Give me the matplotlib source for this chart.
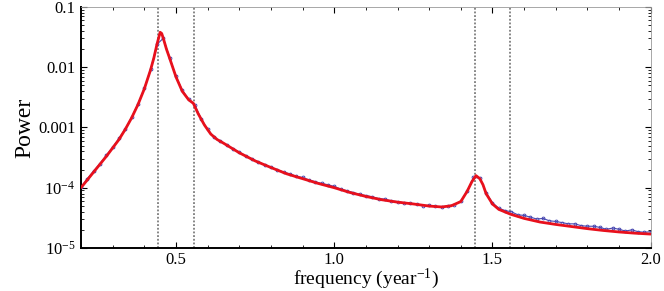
import matplotlib
matplotlib.use("Agg")
import matplotlib.pyplot as plt
from matplotlib.ticker import FixedLocator, FixedFormatter, LogLocator, NullFormatter, MultipleLocator
import numpy as np

plt.rcParams['font.family'] = ['Liberation Serif', 'DejaVu Serif']
plt.rcParams['mathtext.fontset'] = 'custom'
plt.rcParams['mathtext.rm'] = 'Liberation Serif'
plt.rcParams['mathtext.it'] = 'Liberation Serif:italic'

# model (red) curve, log10 power
red_freq = [0.20, 0.22, 0.24, 0.26, 0.28, 0.30, 0.32, 0.34, 0.36, 0.38, 0.40, 0.42, 0.43,
            0.44, 0.45, 0.455, 0.46, 0.47, 0.48, 0.50, 0.52, 0.54, 0.555, 0.57, 0.59, 0.61,
            0.63, 0.65, 0.70, 0.75, 0.80, 0.85, 0.90, 0.95, 1.00, 1.05, 1.10, 1.15, 1.20,
            1.25, 1.30, 1.34, 1.37, 1.40, 1.42, 1.435, 1.448, 1.46, 1.47, 1.48, 1.50, 1.52,
            1.557, 1.60, 1.65, 1.70, 1.75, 1.80, 1.85, 1.90, 1.95, 2.00]
red_log = [-4.00, -3.87, -3.74, -3.61, -3.48, -3.34, -3.20, -3.03, -2.84, -2.62, -2.36, -2.04, -1.85,
           -1.62, -1.42, -1.44, -1.52, -1.70, -1.85, -2.16, -2.40, -2.54, -2.60, -2.77, -2.96, -3.11,
           -3.20, -3.26, -3.42, -3.555, -3.665, -3.77, -3.85, -3.93, -4.00, -4.08, -4.145, -4.20, -4.24,
           -4.27, -4.305, -4.32, -4.30, -4.23, -4.06, -3.90, -3.80, -3.85, -3.95, -4.10, -4.27, -4.36,
           -4.44, -4.51, -4.57, -4.61, -4.645, -4.68, -4.71, -4.735, -4.755, -4.77]

# data (blue) periodogram, log10 power
blue_freq = [0.20, 0.22, 0.24, 0.26, 0.28, 0.30, 0.32, 0.34, 0.36, 0.38, 0.40, 0.42, 0.44, 0.46,
             0.48, 0.50, 0.52, 0.54, 0.56, 0.58, 0.60, 0.62, 0.64, 0.66, 0.68, 0.70, 0.72, 0.74,
             0.76, 0.78, 0.80, 0.82, 0.84, 0.86, 0.88, 0.90, 0.92, 0.94, 0.96, 0.98, 1.00, 1.02,
             1.04, 1.06, 1.08, 1.10, 1.12, 1.14, 1.16, 1.18, 1.20, 1.22, 1.24, 1.26, 1.28, 1.30,
             1.32, 1.34, 1.36, 1.38, 1.40, 1.42, 1.44, 1.46, 1.48, 1.50, 1.52, 1.54, 1.56, 1.58,
             1.60, 1.62, 1.64, 1.66, 1.68, 1.70, 1.72, 1.74, 1.76, 1.78, 1.80, 1.82, 1.84, 1.86,
             1.88, 1.90, 1.92, 1.94, 1.96, 1.98, 2.00]
blue_log = [-3.99, -3.85, -3.72, -3.60, -3.46, -3.33, -3.18, -3.02, -2.83, -2.61, -2.35, -2.03, -1.62, -1.52,
            -1.84, -2.15, -2.38, -2.53, -2.63, -2.86, -3.03, -3.16, -3.23, -3.29, -3.35, -3.41, -3.47, -3.52,
            -3.57, -3.62, -3.66, -3.70, -3.74, -3.77, -3.81, -3.83, -3.87, -3.90, -3.93, -3.95, -3.98, -4.02,
            -4.05, -4.08, -4.11, -4.13, -4.15, -4.18, -4.19, -4.22, -4.23, -4.25, -4.26, -4.27, -4.30, -4.29,
            -4.31, -4.32, -4.30, -4.28, -4.22, -4.06, -3.83, -3.84, -4.08, -4.25, -4.34, -4.38, -4.40, -4.45,
            -4.46, -4.49, -4.52, -4.51, -4.55, -4.56, -4.58, -4.60, -4.60, -4.63, -4.64, -4.64, -4.66, -4.69,
            -4.67, -4.69, -4.72, -4.70, -4.73, -4.74, -4.73]

vlines = [0.4433, 0.5567, 1.4433, 1.5567]
x_ticks = [0.5, 1.0, 1.5, 2.0]
x_ticklabels = ["0.5", "1.0", "1.5", "2.0"]
y_ticks = [1e-5, 1e-4, 1e-3, 1e-2, 1e-1]
y_ticklabels = [r"$10^{-5}$", r"$10^{-4}$", "0.001", "0.01", "0.1"]

fig = plt.figure(figsize=(6.64, 2.91), dpi=100)
ax = fig.add_axes([0.122, 0.148, 0.858, 0.828])

for v in vlines:
    ax.axvline(v, color='#666666', linestyle=(0, (1.2, 1.2)), linewidth=1.1, zorder=1)

ax.plot(blue_freq, 10 ** np.array(blue_log), color='#4848b0', linewidth=0.8, marker='o',
        markersize=2.0, markerfacecolor='none', markeredgewidth=0.7, zorder=2)
ax.plot(red_freq, 10 ** np.array(red_log), color='#e8101c', linewidth=2.0, zorder=3,
        solid_capstyle='round', solid_joinstyle='round')

ax.set_yscale('log')
ax.set_xlim(0.2, 2.0)
ax.set_ylim(1e-5, 0.1)

ax.xaxis.set_major_locator(FixedLocator(x_ticks))
ax.xaxis.set_major_formatter(FixedFormatter(x_ticklabels))
ax.xaxis.set_minor_locator(MultipleLocator(0.1))
ax.yaxis.set_major_locator(FixedLocator(y_ticks))
ax.yaxis.set_major_formatter(FixedFormatter(y_ticklabels))
ax.yaxis.set_minor_locator(LogLocator(base=10, subs=np.arange(2, 10)))
ax.yaxis.set_minor_formatter(NullFormatter())

ax.tick_params(which='both', direction='in', top=True, right=True, labelsize=12, colors='black')
ax.tick_params(which='major', length=4, width=0.8, pad=4)
ax.tick_params(which='minor', length=2.2, width=0.6)
ax.tick_params(axis='x', which='major', pad=3)

for s in ['left', 'bottom']:
    ax.spines[s].set_linewidth(1.4)
    ax.spines[s].set_color('black')
for s in ['top', 'right']:
    ax.spines[s].set_linewidth(0.6)
    ax.spines[s].set_color('#999999')

ax.set_xlabel(r"frequency (year$^{-1}$)", fontsize=14, labelpad=-1)
ax.set_ylabel("Power", fontsize=17, labelpad=2)

fig.savefig("out.png", dpi=100)
